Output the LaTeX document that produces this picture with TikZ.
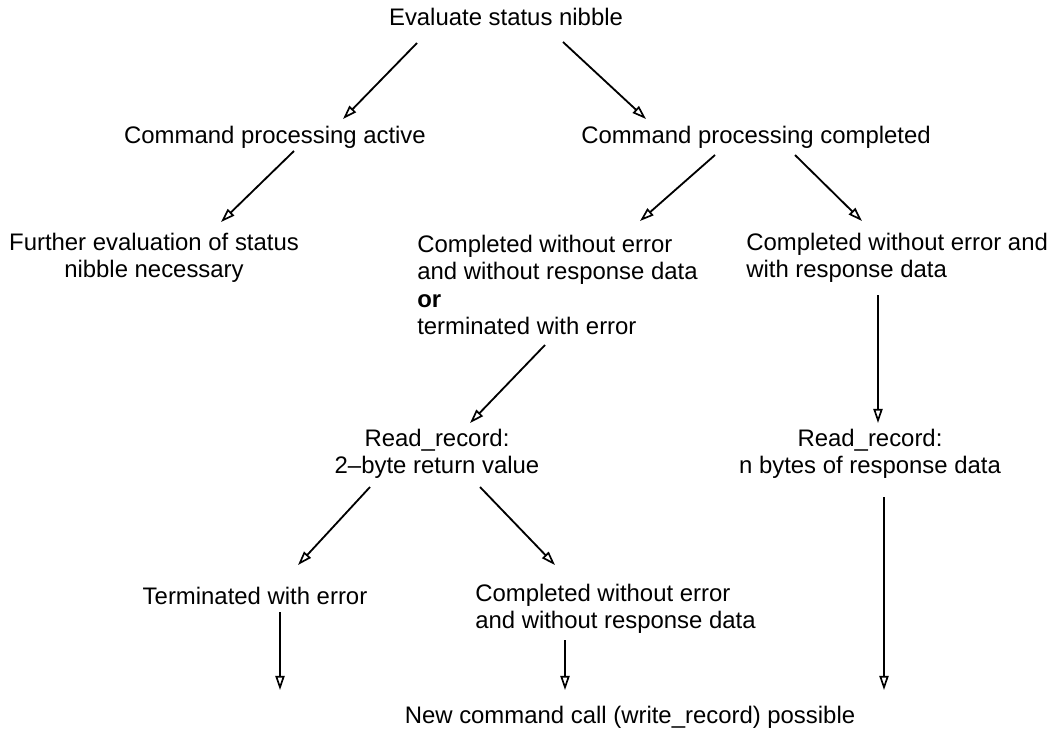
\documentclass[tikz,border=0pt]{standalone}
\usepackage{fontspec}
\setmainfont{Liberation Sans}
\usepackage{tikz}
\usetikzlibrary{arrows.meta}
\usetikzlibrary{calc}

\begin{document}
\begin{tikzpicture}[x=0.025cm,y=-0.025cm,
  lbl/.style={inner sep=0pt,font=\fontsize{17}{19.5}\selectfont},
  arr/.style={line width=1.3pt,-{Triangle[open,length=10pt,width=6.5pt,line width=1.2pt]}}]
\useasboundingbox (0,0) rectangle (1051,733);

% texts
\node [lbl] (eval) at (506,17) {Evaluate status nibble};
\node [lbl] (active) at (275,137) {Command processing active};
\node [lbl] (completed) at (756,137) {Command processing completed};
\node [lbl,align=center] (further) at (154,258) {Further evaluation of status\\nibble necessary};
\node [lbl,align=left,anchor=west] (noresp) at (417,285) {Completed without error\\and without response data\\\textbf{or}\\terminated with error};
\node [lbl,align=left,anchor=west] (withresp) at (746,258) {Completed without error and\\with response data};
\node [lbl,align=center] (readtwo) at (437,454) {Read\_record:\\2--byte return value};
\node [lbl,align=center] (readn) at (870,454) {Read\_record:\\n bytes of response data};
\node [lbl] (termerr) at (255,596) {Terminated with error};
\node [lbl,align=left,anchor=west] (noerr) at (475,609) {Completed without error\\and without response data};
\node [lbl] (newcall) at (630,717) {New command call (write\_record) possible};
\coordinate (termend) at (280,690);

% arrows
\draw [arr] ($(eval)+(-89,26)$) -- ($(active)+(68,-18)$);
\draw [arr] ($(eval)+(57,25)$) -- ($(completed)+(-110,-18)$);
\draw [arr] ($(active)+(19,14)$) -- ($(further)+(67,-36)$);
\draw [arr] ($(completed)+(-41,18)$) -- ($(noresp.west)+(223,-64)$);
\draw [arr] ($(completed)+(39,18)$) -- ($(withresp.west)+(116,-37)$);
\draw [arr] ($(noresp.west)+(128,60)$) -- ($(readtwo)+(33,-31)$);
\draw [arr] ($(withresp.west)+(132,37)$) -- ($(readn)+(8,-31)$);
\draw [arr] ($(readtwo)+(-67,33)$) -- ($(termerr)+(43,-31)$);
\draw [arr] ($(readtwo)+(43,33)$) -- ($(noerr.west)+(80,-44)$);
\draw [arr] ($(termerr)+(25,16)$) -- (termend);
\draw [arr] ($(noerr.west)+(90,31)$) -- ($(newcall)+(-65,-27)$);
\draw [arr] ($(readn)+(14,43)$) -- ($(newcall)+(254,-27)$);

\end{tikzpicture}
\end{document}
